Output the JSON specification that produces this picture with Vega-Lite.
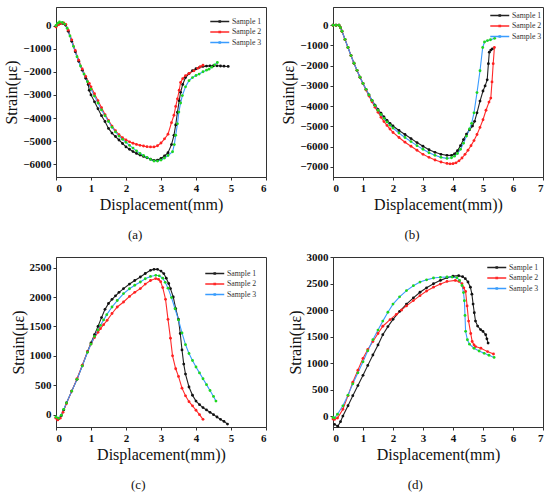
{
  "$schema": "https://vega.github.io/schema/vega-lite/v6.json",
  "padding": {"left": 3, "top": 6, "right": 2, "bottom": 4},
  "bounds": "flush",
  "columns": 2,
  "spacing": {"row": 80, "column": 67},
  "config": {
    "font": "Liberation Serif",
    "view": {"stroke": "#333", "strokeWidth": 1},
    "axis": {
      "grid": false,
      "domainColor": "#333",
      "tickColor": "#333",
      "tickSize": 3,
      "labelFont": "Liberation Serif",
      "labelFontWeight": "bold",
      "labelFontSize": 11,
      "labelColor": "#111",
      "labelPadding": 2,
      "titleFont": "Liberation Serif",
      "titleFontWeight": "normal",
      "titleFontSize": 16,
      "titleColor": "#111",
      "titlePadding": 3
    },
    "legend": {
      "orient": "none",
      "padding": 0,
      "symbolType": "M-3,0H1M-1.15,-0.15h0.3v0.3h-0.3z",
      "symbolSize": 90,
      "symbolStrokeWidth": 1.3,
      "labelFont": "Liberation Serif",
      "labelFontSize": 7.8,
      "labelColor": "#333",
      "labelOffset": 2,
      "rowPadding": 0.5
    },
    "title": {"font": "Liberation Serif", "fontSize": 13, "fontWeight": "normal", "color": "#111", "orient": "bottom", "offset": 17, "frame": "bounds", "anchor": "middle"}
  },
  "data": {
    "values": [
      {"p":"a","s":"Sample 1","x":0,"y":-30},{"p":"a","s":"Sample 1","x":0.1,"y":80},{"p":"a","s":"Sample 1","x":0.2,"y":90},{"p":"a","s":"Sample 1","x":0.27,"y":20},{"p":"a","s":"Sample 1","x":0.35,"y":-250},{"p":"a","s":"Sample 1","x":0.45,"y":-680},{"p":"a","s":"Sample 1","x":0.55,"y":-1130},{"p":"a","s":"Sample 1","x":0.65,"y":-1550},{"p":"a","s":"Sample 1","x":0.75,"y":-1930},{"p":"a","s":"Sample 1","x":0.85,"y":-2280},{"p":"a","s":"Sample 1","x":0.92,"y":-2550},{"p":"a","s":"Sample 1","x":0.95,"y":-2800},{"p":"a","s":"Sample 1","x":1.0,"y":-3000},{"p":"a","s":"Sample 1","x":1.1,"y":-3300},{"p":"a","s":"Sample 1","x":1.2,"y":-3600},{"p":"a","s":"Sample 1","x":1.3,"y":-3900},{"p":"a","s":"Sample 1","x":1.4,"y":-4150},{"p":"a","s":"Sample 1","x":1.5,"y":-4450},{"p":"a","s":"Sample 1","x":1.6,"y":-4650},{"p":"a","s":"Sample 1","x":1.7,"y":-4800},{"p":"a","s":"Sample 1","x":1.8,"y":-4950},{"p":"a","s":"Sample 1","x":1.9,"y":-5100},{"p":"a","s":"Sample 1","x":2.0,"y":-5250},{"p":"a","s":"Sample 1","x":2.1,"y":-5350},{"p":"a","s":"Sample 1","x":2.2,"y":-5450},{"p":"a","s":"Sample 1","x":2.3,"y":-5530},{"p":"a","s":"Sample 1","x":2.4,"y":-5600},{"p":"a","s":"Sample 1","x":2.5,"y":-5660},{"p":"a","s":"Sample 1","x":2.6,"y":-5720},{"p":"a","s":"Sample 1","x":2.7,"y":-5780},{"p":"a","s":"Sample 1","x":2.8,"y":-5830},{"p":"a","s":"Sample 1","x":2.9,"y":-5820},{"p":"a","s":"Sample 1","x":3.0,"y":-5750},{"p":"a","s":"Sample 1","x":3.1,"y":-5640},{"p":"a","s":"Sample 1","x":3.2,"y":-5500},{"p":"a","s":"Sample 1","x":3.3,"y":-5150},{"p":"a","s":"Sample 1","x":3.37,"y":-4750},{"p":"a","s":"Sample 1","x":3.42,"y":-4300},{"p":"a","s":"Sample 1","x":3.47,"y":-3750},{"p":"a","s":"Sample 1","x":3.52,"y":-3250},{"p":"a","s":"Sample 1","x":3.56,"y":-2890},{"p":"a","s":"Sample 1","x":3.62,"y":-2550},{"p":"a","s":"Sample 1","x":3.7,"y":-2250},{"p":"a","s":"Sample 1","x":3.8,"y":-2080},{"p":"a","s":"Sample 1","x":3.9,"y":-1950},{"p":"a","s":"Sample 1","x":4.0,"y":-1870},{"p":"a","s":"Sample 1","x":4.1,"y":-1810},{"p":"a","s":"Sample 1","x":4.2,"y":-1770},{"p":"a","s":"Sample 1","x":4.3,"y":-1755},{"p":"a","s":"Sample 1","x":4.4,"y":-1745},{"p":"a","s":"Sample 1","x":4.5,"y":-1740},{"p":"a","s":"Sample 1","x":4.6,"y":-1743},{"p":"a","s":"Sample 1","x":4.7,"y":-1750},{"p":"a","s":"Sample 1","x":4.8,"y":-1760},{"p":"a","s":"Sample 1","x":4.92,"y":-1770},
      {"p":"a","s":"Sample 2","x":0,"y":-60},{"p":"a","s":"Sample 2","x":0.08,"y":40},{"p":"a","s":"Sample 2","x":0.15,"y":90},{"p":"a","s":"Sample 2","x":0.22,"y":110},{"p":"a","s":"Sample 2","x":0.28,"y":50},{"p":"a","s":"Sample 2","x":0.35,"y":-200},{"p":"a","s":"Sample 2","x":0.45,"y":-620},{"p":"a","s":"Sample 2","x":0.55,"y":-1080},{"p":"a","s":"Sample 2","x":0.65,"y":-1500},{"p":"a","s":"Sample 2","x":0.75,"y":-1880},{"p":"a","s":"Sample 2","x":0.85,"y":-2200},{"p":"a","s":"Sample 2","x":0.95,"y":-2500},{"p":"a","s":"Sample 2","x":1.0,"y":-2650},{"p":"a","s":"Sample 2","x":1.1,"y":-2950},{"p":"a","s":"Sample 2","x":1.2,"y":-3250},{"p":"a","s":"Sample 2","x":1.3,"y":-3550},{"p":"a","s":"Sample 2","x":1.4,"y":-3850},{"p":"a","s":"Sample 2","x":1.5,"y":-4100},{"p":"a","s":"Sample 2","x":1.6,"y":-4350},{"p":"a","s":"Sample 2","x":1.7,"y":-4550},{"p":"a","s":"Sample 2","x":1.8,"y":-4720},{"p":"a","s":"Sample 2","x":1.9,"y":-4850},{"p":"a","s":"Sample 2","x":2.0,"y":-4950},{"p":"a","s":"Sample 2","x":2.1,"y":-5030},{"p":"a","s":"Sample 2","x":2.2,"y":-5090},{"p":"a","s":"Sample 2","x":2.3,"y":-5140},{"p":"a","s":"Sample 2","x":2.4,"y":-5180},{"p":"a","s":"Sample 2","x":2.5,"y":-5210},{"p":"a","s":"Sample 2","x":2.6,"y":-5240},{"p":"a","s":"Sample 2","x":2.7,"y":-5250},{"p":"a","s":"Sample 2","x":2.8,"y":-5250},{"p":"a","s":"Sample 2","x":2.9,"y":-5200},{"p":"a","s":"Sample 2","x":3.0,"y":-5080},{"p":"a","s":"Sample 2","x":3.1,"y":-4900},{"p":"a","s":"Sample 2","x":3.2,"y":-4700},{"p":"a","s":"Sample 2","x":3.3,"y":-4200},{"p":"a","s":"Sample 2","x":3.37,"y":-3880},{"p":"a","s":"Sample 2","x":3.42,"y":-3500},{"p":"a","s":"Sample 2","x":3.47,"y":-3170},{"p":"a","s":"Sample 2","x":3.52,"y":-2800},{"p":"a","s":"Sample 2","x":3.56,"y":-2460},{"p":"a","s":"Sample 2","x":3.62,"y":-2300},{"p":"a","s":"Sample 2","x":3.7,"y":-2170},{"p":"a","s":"Sample 2","x":3.8,"y":-2070},{"p":"a","s":"Sample 2","x":3.94,"y":-1960},{"p":"a","s":"Sample 2","x":4.05,"y":-1850},{"p":"a","s":"Sample 2","x":4.12,"y":-1780},{"p":"a","s":"Sample 2","x":4.2,"y":-1720},
      {"p":"a","s":"Sample 3","x":0,"y":0},{"p":"a","s":"Sample 3","x":0.05,"y":100},{"p":"a","s":"Sample 3","x":0.1,"y":150},{"p":"a","s":"Sample 3","x":0.18,"y":130},{"p":"a","s":"Sample 3","x":0.25,"y":60},{"p":"a","s":"Sample 3","x":0.32,"y":-120},{"p":"a","s":"Sample 3","x":0.4,"y":-450},{"p":"a","s":"Sample 3","x":0.5,"y":-900},{"p":"a","s":"Sample 3","x":0.6,"y":-1350},{"p":"a","s":"Sample 3","x":0.7,"y":-1750},{"p":"a","s":"Sample 3","x":0.8,"y":-2100},{"p":"a","s":"Sample 3","x":0.9,"y":-2430},{"p":"a","s":"Sample 3","x":1.0,"y":-2750},{"p":"a","s":"Sample 3","x":1.1,"y":-3050},{"p":"a","s":"Sample 3","x":1.2,"y":-3350},{"p":"a","s":"Sample 3","x":1.3,"y":-3650},{"p":"a","s":"Sample 3","x":1.4,"y":-3900},{"p":"a","s":"Sample 3","x":1.5,"y":-4150},{"p":"a","s":"Sample 3","x":1.6,"y":-4400},{"p":"a","s":"Sample 3","x":1.7,"y":-4600},{"p":"a","s":"Sample 3","x":1.8,"y":-4780},{"p":"a","s":"Sample 3","x":1.9,"y":-4920},{"p":"a","s":"Sample 3","x":2.0,"y":-5050},{"p":"a","s":"Sample 3","x":2.1,"y":-5180},{"p":"a","s":"Sample 3","x":2.2,"y":-5300},{"p":"a","s":"Sample 3","x":2.3,"y":-5420},{"p":"a","s":"Sample 3","x":2.4,"y":-5530},{"p":"a","s":"Sample 3","x":2.5,"y":-5620},{"p":"a","s":"Sample 3","x":2.6,"y":-5700},{"p":"a","s":"Sample 3","x":2.7,"y":-5790},{"p":"a","s":"Sample 3","x":2.8,"y":-5857},{"p":"a","s":"Sample 3","x":2.9,"y":-5860},{"p":"a","s":"Sample 3","x":3.0,"y":-5820},{"p":"a","s":"Sample 3","x":3.1,"y":-5730},{"p":"a","s":"Sample 3","x":3.2,"y":-5620},{"p":"a","s":"Sample 3","x":3.33,"y":-5457},{"p":"a","s":"Sample 3","x":3.38,"y":-5150},{"p":"a","s":"Sample 3","x":3.42,"y":-4745},{"p":"a","s":"Sample 3","x":3.47,"y":-4250},{"p":"a","s":"Sample 3","x":3.51,"y":-3743},{"p":"a","s":"Sample 3","x":3.56,"y":-3350},{"p":"a","s":"Sample 3","x":3.61,"y":-3030},{"p":"a","s":"Sample 3","x":3.7,"y":-2650},{"p":"a","s":"Sample 3","x":3.8,"y":-2386},{"p":"a","s":"Sample 3","x":3.9,"y":-2250},{"p":"a","s":"Sample 3","x":4.0,"y":-2160},{"p":"a","s":"Sample 3","x":4.09,"y":-2100},{"p":"a","s":"Sample 3","x":4.2,"y":-2000},{"p":"a","s":"Sample 3","x":4.3,"y":-1930},{"p":"a","s":"Sample 3","x":4.37,"y":-1886},{"p":"a","s":"Sample 3","x":4.45,"y":-1800},{"p":"a","s":"Sample 3","x":4.53,"y":-1700},{"p":"a","s":"Sample 3","x":4.61,"y":-1600},
      {"p":"b","s":"Sample 1","x":0,"y":0},{"p":"b","s":"Sample 1","x":0.1,"y":0},{"p":"b","s":"Sample 1","x":0.2,"y":0},{"p":"b","s":"Sample 1","x":0.25,"y":-120},{"p":"b","s":"Sample 1","x":0.3,"y":-300},{"p":"b","s":"Sample 1","x":0.4,"y":-700},{"p":"b","s":"Sample 1","x":0.5,"y":-1100},{"p":"b","s":"Sample 1","x":0.6,"y":-1500},{"p":"b","s":"Sample 1","x":0.7,"y":-1880},{"p":"b","s":"Sample 1","x":0.8,"y":-2230},{"p":"b","s":"Sample 1","x":0.9,"y":-2570},{"p":"b","s":"Sample 1","x":1.0,"y":-2880},{"p":"b","s":"Sample 1","x":1.1,"y":-3170},{"p":"b","s":"Sample 1","x":1.2,"y":-3450},{"p":"b","s":"Sample 1","x":1.3,"y":-3710},{"p":"b","s":"Sample 1","x":1.4,"y":-3950},{"p":"b","s":"Sample 1","x":1.5,"y":-4160},{"p":"b","s":"Sample 1","x":1.6,"y":-4350},{"p":"b","s":"Sample 1","x":1.7,"y":-4530},{"p":"b","s":"Sample 1","x":1.8,"y":-4700},{"p":"b","s":"Sample 1","x":1.9,"y":-4850},{"p":"b","s":"Sample 1","x":2.0,"y":-4980},{"p":"b","s":"Sample 1","x":2.2,"y":-5200},{"p":"b","s":"Sample 1","x":2.4,"y":-5400},{"p":"b","s":"Sample 1","x":2.6,"y":-5600},{"p":"b","s":"Sample 1","x":2.8,"y":-5800},{"p":"b","s":"Sample 1","x":3.0,"y":-5980},{"p":"b","s":"Sample 1","x":3.2,"y":-6150},{"p":"b","s":"Sample 1","x":3.4,"y":-6280},{"p":"b","s":"Sample 1","x":3.6,"y":-6380},{"p":"b","s":"Sample 1","x":3.8,"y":-6430},{"p":"b","s":"Sample 1","x":3.95,"y":-6430},{"p":"b","s":"Sample 1","x":4.05,"y":-6360},{"p":"b","s":"Sample 1","x":4.15,"y":-6200},{"p":"b","s":"Sample 1","x":4.25,"y":-5950},{"p":"b","s":"Sample 1","x":4.35,"y":-5650},{"p":"b","s":"Sample 1","x":4.45,"y":-5380},{"p":"b","s":"Sample 1","x":4.55,"y":-5170},{"p":"b","s":"Sample 1","x":4.65,"y":-4980},{"p":"b","s":"Sample 1","x":4.72,"y":-4750},{"p":"b","s":"Sample 1","x":4.8,"y":-4330},{"p":"b","s":"Sample 1","x":4.9,"y":-3750},{"p":"b","s":"Sample 1","x":5.0,"y":-3250},{"p":"b","s":"Sample 1","x":5.07,"y":-3000},{"p":"b","s":"Sample 1","x":5.14,"y":-2700},{"p":"b","s":"Sample 1","x":5.18,"y":-1900},{"p":"b","s":"Sample 1","x":5.21,"y":-1330},{"p":"b","s":"Sample 1","x":5.26,"y":-1230},{"p":"b","s":"Sample 1","x":5.31,"y":-1170},
      {"p":"b","s":"Sample 2","x":0,"y":0},{"p":"b","s":"Sample 2","x":0.1,"y":0},{"p":"b","s":"Sample 2","x":0.2,"y":0},{"p":"b","s":"Sample 2","x":0.25,"y":-120},{"p":"b","s":"Sample 2","x":0.3,"y":-300},{"p":"b","s":"Sample 2","x":0.4,"y":-700},{"p":"b","s":"Sample 2","x":0.5,"y":-1100},{"p":"b","s":"Sample 2","x":0.6,"y":-1500},{"p":"b","s":"Sample 2","x":0.7,"y":-1880},{"p":"b","s":"Sample 2","x":0.8,"y":-2230},{"p":"b","s":"Sample 2","x":0.9,"y":-2570},{"p":"b","s":"Sample 2","x":1.0,"y":-2880},{"p":"b","s":"Sample 2","x":1.1,"y":-3200},{"p":"b","s":"Sample 2","x":1.2,"y":-3500},{"p":"b","s":"Sample 2","x":1.3,"y":-3780},{"p":"b","s":"Sample 2","x":1.4,"y":-4050},{"p":"b","s":"Sample 2","x":1.5,"y":-4300},{"p":"b","s":"Sample 2","x":1.6,"y":-4550},{"p":"b","s":"Sample 2","x":1.7,"y":-4760},{"p":"b","s":"Sample 2","x":1.8,"y":-4950},{"p":"b","s":"Sample 2","x":1.9,"y":-5130},{"p":"b","s":"Sample 2","x":2.0,"y":-5300},{"p":"b","s":"Sample 2","x":2.2,"y":-5550},{"p":"b","s":"Sample 2","x":2.4,"y":-5780},{"p":"b","s":"Sample 2","x":2.6,"y":-5980},{"p":"b","s":"Sample 2","x":2.8,"y":-6180},{"p":"b","s":"Sample 2","x":3.0,"y":-6380},{"p":"b","s":"Sample 2","x":3.2,"y":-6530},{"p":"b","s":"Sample 2","x":3.4,"y":-6660},{"p":"b","s":"Sample 2","x":3.6,"y":-6760},{"p":"b","s":"Sample 2","x":3.8,"y":-6830},{"p":"b","s":"Sample 2","x":3.9,"y":-6850},{"p":"b","s":"Sample 2","x":4.0,"y":-6840},{"p":"b","s":"Sample 2","x":4.1,"y":-6800},{"p":"b","s":"Sample 2","x":4.2,"y":-6700},{"p":"b","s":"Sample 2","x":4.3,"y":-6560},{"p":"b","s":"Sample 2","x":4.4,"y":-6380},{"p":"b","s":"Sample 2","x":4.5,"y":-6180},{"p":"b","s":"Sample 2","x":4.6,"y":-5950},{"p":"b","s":"Sample 2","x":4.7,"y":-5700},{"p":"b","s":"Sample 2","x":4.8,"y":-5400},{"p":"b","s":"Sample 2","x":4.9,"y":-5050},{"p":"b","s":"Sample 2","x":5.0,"y":-4670},{"p":"b","s":"Sample 2","x":5.1,"y":-4200},{"p":"b","s":"Sample 2","x":5.2,"y":-3800},{"p":"b","s":"Sample 2","x":5.26,"y":-3600},{"p":"b","s":"Sample 2","x":5.3,"y":-2800},{"p":"b","s":"Sample 2","x":5.34,"y":-1900},{"p":"b","s":"Sample 2","x":5.38,"y":-1100},
      {"p":"b","s":"Sample 3","x":0,"y":0},{"p":"b","s":"Sample 3","x":0.1,"y":0},{"p":"b","s":"Sample 3","x":0.2,"y":0},{"p":"b","s":"Sample 3","x":0.25,"y":-120},{"p":"b","s":"Sample 3","x":0.3,"y":-300},{"p":"b","s":"Sample 3","x":0.4,"y":-700},{"p":"b","s":"Sample 3","x":0.5,"y":-1100},{"p":"b","s":"Sample 3","x":0.6,"y":-1500},{"p":"b","s":"Sample 3","x":0.7,"y":-1880},{"p":"b","s":"Sample 3","x":0.8,"y":-2230},{"p":"b","s":"Sample 3","x":0.9,"y":-2570},{"p":"b","s":"Sample 3","x":1.0,"y":-2880},{"p":"b","s":"Sample 3","x":1.1,"y":-3170},{"p":"b","s":"Sample 3","x":1.2,"y":-3450},{"p":"b","s":"Sample 3","x":1.3,"y":-3720},{"p":"b","s":"Sample 3","x":1.4,"y":-3970},{"p":"b","s":"Sample 3","x":1.5,"y":-4200},{"p":"b","s":"Sample 3","x":1.6,"y":-4410},{"p":"b","s":"Sample 3","x":1.7,"y":-4600},{"p":"b","s":"Sample 3","x":1.8,"y":-4780},{"p":"b","s":"Sample 3","x":1.9,"y":-4940},{"p":"b","s":"Sample 3","x":2.0,"y":-5080},{"p":"b","s":"Sample 3","x":2.2,"y":-5330},{"p":"b","s":"Sample 3","x":2.4,"y":-5550},{"p":"b","s":"Sample 3","x":2.6,"y":-5750},{"p":"b","s":"Sample 3","x":2.8,"y":-5950},{"p":"b","s":"Sample 3","x":3.0,"y":-6130},{"p":"b","s":"Sample 3","x":3.2,"y":-6300},{"p":"b","s":"Sample 3","x":3.4,"y":-6430},{"p":"b","s":"Sample 3","x":3.6,"y":-6530},{"p":"b","s":"Sample 3","x":3.8,"y":-6580},{"p":"b","s":"Sample 3","x":3.95,"y":-6550},{"p":"b","s":"Sample 3","x":4.05,"y":-6470},{"p":"b","s":"Sample 3","x":4.15,"y":-6340},{"p":"b","s":"Sample 3","x":4.25,"y":-6130},{"p":"b","s":"Sample 3","x":4.35,"y":-5830},{"p":"b","s":"Sample 3","x":4.45,"y":-5480},{"p":"b","s":"Sample 3","x":4.55,"y":-5130},{"p":"b","s":"Sample 3","x":4.62,"y":-4850},{"p":"b","s":"Sample 3","x":4.7,"y":-4330},{"p":"b","s":"Sample 3","x":4.8,"y":-3330},{"p":"b","s":"Sample 3","x":4.9,"y":-2250},{"p":"b","s":"Sample 3","x":4.99,"y":-1100},{"p":"b","s":"Sample 3","x":5.05,"y":-830},{"p":"b","s":"Sample 3","x":5.15,"y":-760},{"p":"b","s":"Sample 3","x":5.25,"y":-720},{"p":"b","s":"Sample 3","x":5.39,"y":-650},
      {"p":"c","s":"Sample 1","x":0,"y":-50},{"p":"c","s":"Sample 1","x":0.07,"y":-70},{"p":"c","s":"Sample 1","x":0.15,"y":-20},{"p":"c","s":"Sample 1","x":0.22,"y":80},{"p":"c","s":"Sample 1","x":0.3,"y":200},{"p":"c","s":"Sample 1","x":0.45,"y":400},{"p":"c","s":"Sample 1","x":0.6,"y":600},{"p":"c","s":"Sample 1","x":0.75,"y":830},{"p":"c","s":"Sample 1","x":0.9,"y":1070},{"p":"c","s":"Sample 1","x":1.0,"y":1220},{"p":"c","s":"Sample 1","x":1.1,"y":1360},{"p":"c","s":"Sample 1","x":1.2,"y":1500},{"p":"c","s":"Sample 1","x":1.3,"y":1650},{"p":"c","s":"Sample 1","x":1.4,"y":1790},{"p":"c","s":"Sample 1","x":1.5,"y":1890},{"p":"c","s":"Sample 1","x":1.6,"y":1960},{"p":"c","s":"Sample 1","x":1.7,"y":2020},{"p":"c","s":"Sample 1","x":1.8,"y":2080},{"p":"c","s":"Sample 1","x":1.93,"y":2143},{"p":"c","s":"Sample 1","x":2.1,"y":2220},{"p":"c","s":"Sample 1","x":2.25,"y":2280},{"p":"c","s":"Sample 1","x":2.41,"y":2340},{"p":"c","s":"Sample 1","x":2.55,"y":2400},{"p":"c","s":"Sample 1","x":2.7,"y":2454},{"p":"c","s":"Sample 1","x":2.8,"y":2470},{"p":"c","s":"Sample 1","x":2.9,"y":2471},{"p":"c","s":"Sample 1","x":3.0,"y":2440},{"p":"c","s":"Sample 1","x":3.08,"y":2398},{"p":"c","s":"Sample 1","x":3.15,"y":2320},{"p":"c","s":"Sample 1","x":3.22,"y":2230},{"p":"c","s":"Sample 1","x":3.27,"y":2143},{"p":"c","s":"Sample 1","x":3.35,"y":2000},{"p":"c","s":"Sample 1","x":3.42,"y":1803},{"p":"c","s":"Sample 1","x":3.5,"y":1620},{"p":"c","s":"Sample 1","x":3.55,"y":1380},{"p":"c","s":"Sample 1","x":3.6,"y":1100},{"p":"c","s":"Sample 1","x":3.65,"y":860},{"p":"c","s":"Sample 1","x":3.7,"y":690},{"p":"c","s":"Sample 1","x":3.8,"y":470},{"p":"c","s":"Sample 1","x":3.9,"y":330},{"p":"c","s":"Sample 1","x":4.0,"y":230},{"p":"c","s":"Sample 1","x":4.1,"y":170},{"p":"c","s":"Sample 1","x":4.2,"y":120},{"p":"c","s":"Sample 1","x":4.3,"y":80},{"p":"c","s":"Sample 1","x":4.4,"y":40},{"p":"c","s":"Sample 1","x":4.5,"y":0},{"p":"c","s":"Sample 1","x":4.6,"y":-40},{"p":"c","s":"Sample 1","x":4.7,"y":-80},{"p":"c","s":"Sample 1","x":4.8,"y":-115},{"p":"c","s":"Sample 1","x":4.9,"y":-160},
      {"p":"c","s":"Sample 2","x":0,"y":-60},{"p":"c","s":"Sample 2","x":0.05,"y":-90},{"p":"c","s":"Sample 2","x":0.12,"y":-60},{"p":"c","s":"Sample 2","x":0.2,"y":40},{"p":"c","s":"Sample 2","x":0.3,"y":190},{"p":"c","s":"Sample 2","x":0.45,"y":400},{"p":"c","s":"Sample 2","x":0.6,"y":610},{"p":"c","s":"Sample 2","x":0.75,"y":840},{"p":"c","s":"Sample 2","x":0.9,"y":1070},{"p":"c","s":"Sample 2","x":1.0,"y":1200},{"p":"c","s":"Sample 2","x":1.1,"y":1310},{"p":"c","s":"Sample 2","x":1.2,"y":1400},{"p":"c","s":"Sample 2","x":1.27,"y":1462},{"p":"c","s":"Sample 2","x":1.36,"y":1530},{"p":"c","s":"Sample 2","x":1.46,"y":1604},{"p":"c","s":"Sample 2","x":1.6,"y":1720},{"p":"c","s":"Sample 2","x":1.75,"y":1830},{"p":"c","s":"Sample 2","x":1.93,"y":1915},{"p":"c","s":"Sample 2","x":2.1,"y":2010},{"p":"c","s":"Sample 2","x":2.25,"y":2080},{"p":"c","s":"Sample 2","x":2.41,"y":2143},{"p":"c","s":"Sample 2","x":2.55,"y":2220},{"p":"c","s":"Sample 2","x":2.7,"y":2280},{"p":"c","s":"Sample 2","x":2.85,"y":2313},{"p":"c","s":"Sample 2","x":2.93,"y":2300},{"p":"c","s":"Sample 2","x":2.99,"y":2260},{"p":"c","s":"Sample 2","x":3.05,"y":2160},{"p":"c","s":"Sample 2","x":3.13,"y":1960},{"p":"c","s":"Sample 2","x":3.2,"y":1620},{"p":"c","s":"Sample 2","x":3.27,"y":1300},{"p":"c","s":"Sample 2","x":3.33,"y":1000},{"p":"c","s":"Sample 2","x":3.42,"y":780},{"p":"c","s":"Sample 2","x":3.5,"y":650},{"p":"c","s":"Sample 2","x":3.6,"y":450},{"p":"c","s":"Sample 2","x":3.7,"y":320},{"p":"c","s":"Sample 2","x":3.8,"y":220},{"p":"c","s":"Sample 2","x":3.9,"y":150},{"p":"c","s":"Sample 2","x":4.0,"y":75},{"p":"c","s":"Sample 2","x":4.1,"y":0},{"p":"c","s":"Sample 2","x":4.2,"y":-80},
      {"p":"c","s":"Sample 3","x":0,"y":-40},{"p":"c","s":"Sample 3","x":0.07,"y":-60},{"p":"c","s":"Sample 3","x":0.15,"y":-10},{"p":"c","s":"Sample 3","x":0.22,"y":90},{"p":"c","s":"Sample 3","x":0.3,"y":200},{"p":"c","s":"Sample 3","x":0.45,"y":400},{"p":"c","s":"Sample 3","x":0.6,"y":600},{"p":"c","s":"Sample 3","x":0.75,"y":830},{"p":"c","s":"Sample 3","x":0.9,"y":1060},{"p":"c","s":"Sample 3","x":1.0,"y":1200},{"p":"c","s":"Sample 3","x":1.1,"y":1330},{"p":"c","s":"Sample 3","x":1.2,"y":1440},{"p":"c","s":"Sample 3","x":1.27,"y":1519},{"p":"c","s":"Sample 3","x":1.36,"y":1610},{"p":"c","s":"Sample 3","x":1.45,"y":1700},{"p":"c","s":"Sample 3","x":1.6,"y":1830},{"p":"c","s":"Sample 3","x":1.75,"y":1940},{"p":"c","s":"Sample 3","x":1.93,"y":2058},{"p":"c","s":"Sample 3","x":2.1,"y":2140},{"p":"c","s":"Sample 3","x":2.25,"y":2200},{"p":"c","s":"Sample 3","x":2.41,"y":2255},{"p":"c","s":"Sample 3","x":2.55,"y":2310},{"p":"c","s":"Sample 3","x":2.7,"y":2350},{"p":"c","s":"Sample 3","x":2.85,"y":2369},{"p":"c","s":"Sample 3","x":2.95,"y":2360},{"p":"c","s":"Sample 3","x":3.05,"y":2320},{"p":"c","s":"Sample 3","x":3.12,"y":2250},{"p":"c","s":"Sample 3","x":3.2,"y":2150},{"p":"c","s":"Sample 3","x":3.3,"y":1990},{"p":"c","s":"Sample 3","x":3.4,"y":1800},{"p":"c","s":"Sample 3","x":3.5,"y":1610},{"p":"c","s":"Sample 3","x":3.6,"y":1390},{"p":"c","s":"Sample 3","x":3.7,"y":1190},{"p":"c","s":"Sample 3","x":3.8,"y":1040},{"p":"c","s":"Sample 3","x":3.9,"y":920},{"p":"c","s":"Sample 3","x":4.0,"y":810},{"p":"c","s":"Sample 3","x":4.1,"y":710},{"p":"c","s":"Sample 3","x":4.2,"y":610},{"p":"c","s":"Sample 3","x":4.3,"y":510},{"p":"c","s":"Sample 3","x":4.4,"y":410},{"p":"c","s":"Sample 3","x":4.5,"y":310},{"p":"c","s":"Sample 3","x":4.57,"y":230},
      {"p":"d","s":"Sample 1","x":0.05,"y":-150},{"p":"d","s":"Sample 1","x":0.16,"y":-186},{"p":"d","s":"Sample 1","x":0.25,"y":-100},{"p":"d","s":"Sample 1","x":0.33,"y":6},{"p":"d","s":"Sample 1","x":0.5,"y":200},{"p":"d","s":"Sample 1","x":0.66,"y":389},{"p":"d","s":"Sample 1","x":0.83,"y":580},{"p":"d","s":"Sample 1","x":1.0,"y":772},{"p":"d","s":"Sample 1","x":1.16,"y":960},{"p":"d","s":"Sample 1","x":1.33,"y":1155},{"p":"d","s":"Sample 1","x":1.5,"y":1345},{"p":"d","s":"Sample 1","x":1.66,"y":1538},{"p":"d","s":"Sample 1","x":1.83,"y":1690},{"p":"d","s":"Sample 1","x":2.0,"y":1826},{"p":"d","s":"Sample 1","x":2.22,"y":1975},{"p":"d","s":"Sample 1","x":2.45,"y":2113},{"p":"d","s":"Sample 1","x":2.68,"y":2230},{"p":"d","s":"Sample 1","x":2.9,"y":2337},{"p":"d","s":"Sample 1","x":3.12,"y":2420},{"p":"d","s":"Sample 1","x":3.35,"y":2496},{"p":"d","s":"Sample 1","x":3.58,"y":2560},{"p":"d","s":"Sample 1","x":3.8,"y":2611},{"p":"d","s":"Sample 1","x":4.0,"y":2640},{"p":"d","s":"Sample 1","x":4.19,"y":2649},{"p":"d","s":"Sample 1","x":4.32,"y":2630},{"p":"d","s":"Sample 1","x":4.41,"y":2592},{"p":"d","s":"Sample 1","x":4.5,"y":2530},{"p":"d","s":"Sample 1","x":4.58,"y":2432},{"p":"d","s":"Sample 1","x":4.63,"y":2300},{"p":"d","s":"Sample 1","x":4.67,"y":2113},{"p":"d","s":"Sample 1","x":4.71,"y":1950},{"p":"d","s":"Sample 1","x":4.75,"y":1793},{"p":"d","s":"Sample 1","x":4.82,"y":1700},{"p":"d","s":"Sample 1","x":4.92,"y":1634},{"p":"d","s":"Sample 1","x":5.0,"y":1600},{"p":"d","s":"Sample 1","x":5.09,"y":1538},{"p":"d","s":"Sample 1","x":5.13,"y":1460},{"p":"d","s":"Sample 1","x":5.17,"y":1379},
      {"p":"d","s":"Sample 2","x":0,"y":-50},{"p":"d","s":"Sample 2","x":0.05,"y":-57},{"p":"d","s":"Sample 2","x":0.15,"y":-30},{"p":"d","s":"Sample 2","x":0.33,"y":134},{"p":"d","s":"Sample 2","x":0.5,"y":390},{"p":"d","s":"Sample 2","x":0.66,"y":644},{"p":"d","s":"Sample 2","x":0.83,"y":870},{"p":"d","s":"Sample 2","x":1.0,"y":1092},{"p":"d","s":"Sample 2","x":1.16,"y":1260},{"p":"d","s":"Sample 2","x":1.33,"y":1410},{"p":"d","s":"Sample 2","x":1.5,"y":1560},{"p":"d","s":"Sample 2","x":1.66,"y":1697},{"p":"d","s":"Sample 2","x":1.9,"y":1820},{"p":"d","s":"Sample 2","x":2.11,"y":1921},{"p":"d","s":"Sample 2","x":2.28,"y":2000},{"p":"d","s":"Sample 2","x":2.45,"y":2080},{"p":"d","s":"Sample 2","x":2.68,"y":2180},{"p":"d","s":"Sample 2","x":2.9,"y":2272},{"p":"d","s":"Sample 2","x":3.12,"y":2360},{"p":"d","s":"Sample 2","x":3.35,"y":2432},{"p":"d","s":"Sample 2","x":3.58,"y":2490},{"p":"d","s":"Sample 2","x":3.8,"y":2540},{"p":"d","s":"Sample 2","x":4.08,"y":2560},{"p":"d","s":"Sample 2","x":4.2,"y":2540},{"p":"d","s":"Sample 2","x":4.3,"y":2496},{"p":"d","s":"Sample 2","x":4.36,"y":2420},{"p":"d","s":"Sample 2","x":4.42,"y":2350},{"p":"d","s":"Sample 2","x":4.47,"y":2080},{"p":"d","s":"Sample 2","x":4.52,"y":1793},{"p":"d","s":"Sample 2","x":4.59,"y":1560},{"p":"d","s":"Sample 2","x":4.64,"y":1410},{"p":"d","s":"Sample 2","x":4.7,"y":1347},{"p":"d","s":"Sample 2","x":4.75,"y":1314},{"p":"d","s":"Sample 2","x":4.93,"y":1283},{"p":"d","s":"Sample 2","x":5.15,"y":1219},{"p":"d","s":"Sample 2","x":5.35,"y":1174},
      {"p":"d","s":"Sample 3","x":0,"y":-20},{"p":"d","s":"Sample 3","x":0.05,"y":-27},{"p":"d","s":"Sample 3","x":0.15,"y":40},{"p":"d","s":"Sample 3","x":0.33,"y":198},{"p":"d","s":"Sample 3","x":0.5,"y":400},{"p":"d","s":"Sample 3","x":0.66,"y":613},{"p":"d","s":"Sample 3","x":0.83,"y":820},{"p":"d","s":"Sample 3","x":1.0,"y":1027},{"p":"d","s":"Sample 3","x":1.16,"y":1235},{"p":"d","s":"Sample 3","x":1.33,"y":1442},{"p":"d","s":"Sample 3","x":1.5,"y":1625},{"p":"d","s":"Sample 3","x":1.66,"y":1793},{"p":"d","s":"Sample 3","x":1.83,"y":1960},{"p":"d","s":"Sample 3","x":2.0,"y":2113},{"p":"d","s":"Sample 3","x":2.22,"y":2250},{"p":"d","s":"Sample 3","x":2.45,"y":2368},{"p":"d","s":"Sample 3","x":2.68,"y":2460},{"p":"d","s":"Sample 3","x":2.9,"y":2528},{"p":"d","s":"Sample 3","x":3.12,"y":2570},{"p":"d","s":"Sample 3","x":3.35,"y":2605},{"p":"d","s":"Sample 3","x":3.58,"y":2618},{"p":"d","s":"Sample 3","x":3.8,"y":2624},{"p":"d","s":"Sample 3","x":3.97,"y":2622},{"p":"d","s":"Sample 3","x":4.13,"y":2611},{"p":"d","s":"Sample 3","x":4.22,"y":2560},{"p":"d","s":"Sample 3","x":4.3,"y":2464},{"p":"d","s":"Sample 3","x":4.35,"y":2330},{"p":"d","s":"Sample 3","x":4.38,"y":2176},{"p":"d","s":"Sample 3","x":4.4,"y":1900},{"p":"d","s":"Sample 3","x":4.42,"y":1601},{"p":"d","s":"Sample 3","x":4.48,"y":1442},{"p":"d","s":"Sample 3","x":4.55,"y":1360},{"p":"d","s":"Sample 3","x":4.7,"y":1283},{"p":"d","s":"Sample 3","x":4.87,"y":1230},{"p":"d","s":"Sample 3","x":5.04,"y":1187},{"p":"d","s":"Sample 3","x":5.2,"y":1150},{"p":"d","s":"Sample 3","x":5.37,"y":1110}
    ]
  },
  "resolve": {
    "scale": {"x": "independent", "y": "independent", "stroke": "independent", "fill": "independent"},
    "legend": {"stroke": "independent"}
  },
  "concat": [
    {
      "width": 210, "height": 170,
      "title": "(a)",
      "transform": [{"filter": "datum.p == 'a'"}],
      "encoding": {
        "x": {"field": "x", "type": "quantitative", "scale": {"domain": [0, 6], "nice": false}, "axis": {"title": "Displacement(mm)", "values": [0, 1, 2, 3, 4, 5, 6], "format": "d"}},
        "y": {"field": "y", "type": "quantitative", "scale": {"domain": [-6550, 800], "nice": false, "zero": false}, "axis": {"title": "Strain(με)", "values": [-6000, -5000, -4000, -3000, -2000, -1000, 0], "format": "d"}}
      },
      "layer": [
        {"mark": {"type": "line", "strokeWidth": 1.1}, "encoding": {"stroke": {"field": "s", "type": "nominal", "scale": {"domain": ["Sample 1", "Sample 2", "Sample 3"], "range": ["#222222", "#ff2a2a", "#3a9cff"]}, "legend": {"title": null, "legendX": 163, "legendY": 9}}}},
        {"mark": {"type": "point", "filled": true, "size": 8, "opacity": 1}, "encoding": {"fill": {"field": "s", "type": "nominal", "scale": {"domain": ["Sample 1", "Sample 2", "Sample 3"], "range": ["#111111", "#ff2020", "#1ed61e"]}, "legend": null}}}
      ]
    },
    {
      "width": 210, "height": 170,
      "title": "(b)",
      "transform": [{"filter": "datum.p == 'b'"}],
      "encoding": {
        "x": {"field": "x", "type": "quantitative", "scale": {"domain": [0, 7], "nice": false}, "axis": {"title": "Displacement(mm))", "values": [0, 1, 2, 3, 4, 5, 6, 7], "format": "d"}},
        "y": {"field": "y", "type": "quantitative", "scale": {"domain": [-7500, 900], "nice": false, "zero": false}, "axis": {"title": "Strain(με)", "values": [-7000, -6000, -5000, -4000, -3000, -2000, -1000, 0], "format": "d"}}
      },
      "layer": [
        {"mark": {"type": "line", "strokeWidth": 1.1}, "encoding": {"stroke": {"field": "s", "type": "nominal", "scale": {"domain": ["Sample 1", "Sample 2", "Sample 3"], "range": ["#222222", "#ff2a2a", "#3a9cff"]}, "legend": {"title": null, "legendX": 166, "legendY": 3}}}},
        {"mark": {"type": "point", "filled": true, "size": 8, "opacity": 1}, "encoding": {"fill": {"field": "s", "type": "nominal", "scale": {"domain": ["Sample 1", "Sample 2", "Sample 3"], "range": ["#111111", "#ff2020", "#1ed61e"]}, "legend": null}}}
      ]
    },
    {
      "width": 210, "height": 170,
      "title": "(c)",
      "transform": [{"filter": "datum.p == 'c'"}],
      "encoding": {
        "x": {"field": "x", "type": "quantitative", "scale": {"domain": [0, 6], "nice": false}, "axis": {"title": "Displacement(mm))", "values": [0, 1, 2, 3, 4, 5, 6], "format": "d"}},
        "y": {"field": "y", "type": "quantitative", "scale": {"domain": [-210, 2680], "nice": false, "zero": false}, "axis": {"title": "Strain(με)", "values": [0, 500, 1000, 1500, 2000, 2500], "format": "d"}}
      },
      "layer": [
        {"mark": {"type": "line", "strokeWidth": 1.1}, "encoding": {"stroke": {"field": "s", "type": "nominal", "scale": {"domain": ["Sample 1", "Sample 2", "Sample 3"], "range": ["#222222", "#ff2a2a", "#3a9cff"]}, "legend": {"title": null, "legendX": 158, "legendY": 11}}}},
        {"mark": {"type": "point", "filled": true, "size": 8, "opacity": 1}, "encoding": {"fill": {"field": "s", "type": "nominal", "scale": {"domain": ["Sample 1", "Sample 2", "Sample 3"], "range": ["#111111", "#ff2020", "#1ed61e"]}, "legend": null}}}
      ]
    },
    {
      "width": 210, "height": 170,
      "title": "(d)",
      "transform": [{"filter": "datum.p == 'd'"}],
      "encoding": {
        "x": {"field": "x", "type": "quantitative", "scale": {"domain": [0, 7], "nice": false}, "axis": {"title": "Displacement(mm)", "values": [0, 1, 2, 3, 4, 5, 6, 7], "format": "d"}},
        "y": {"field": "y", "type": "quantitative", "scale": {"domain": [-200, 3000], "nice": false, "zero": false}, "axis": {"title": "Strain(με)", "values": [0, 500, 1000, 1500, 2000, 2500, 3000], "format": "d"}}
      },
      "layer": [
        {"mark": {"type": "line", "strokeWidth": 1.1}, "encoding": {"stroke": {"field": "s", "type": "nominal", "scale": {"domain": ["Sample 1", "Sample 2", "Sample 3"], "range": ["#222222", "#ff2a2a", "#3a9cff"]}, "legend": {"title": null, "legendX": 163, "legendY": 5}}}},
        {"mark": {"type": "point", "filled": true, "size": 8, "opacity": 1}, "encoding": {"fill": {"field": "s", "type": "nominal", "scale": {"domain": ["Sample 1", "Sample 2", "Sample 3"], "range": ["#111111", "#ff2020", "#1ed61e"]}, "legend": null}}}
      ]
    }
  ]
}
